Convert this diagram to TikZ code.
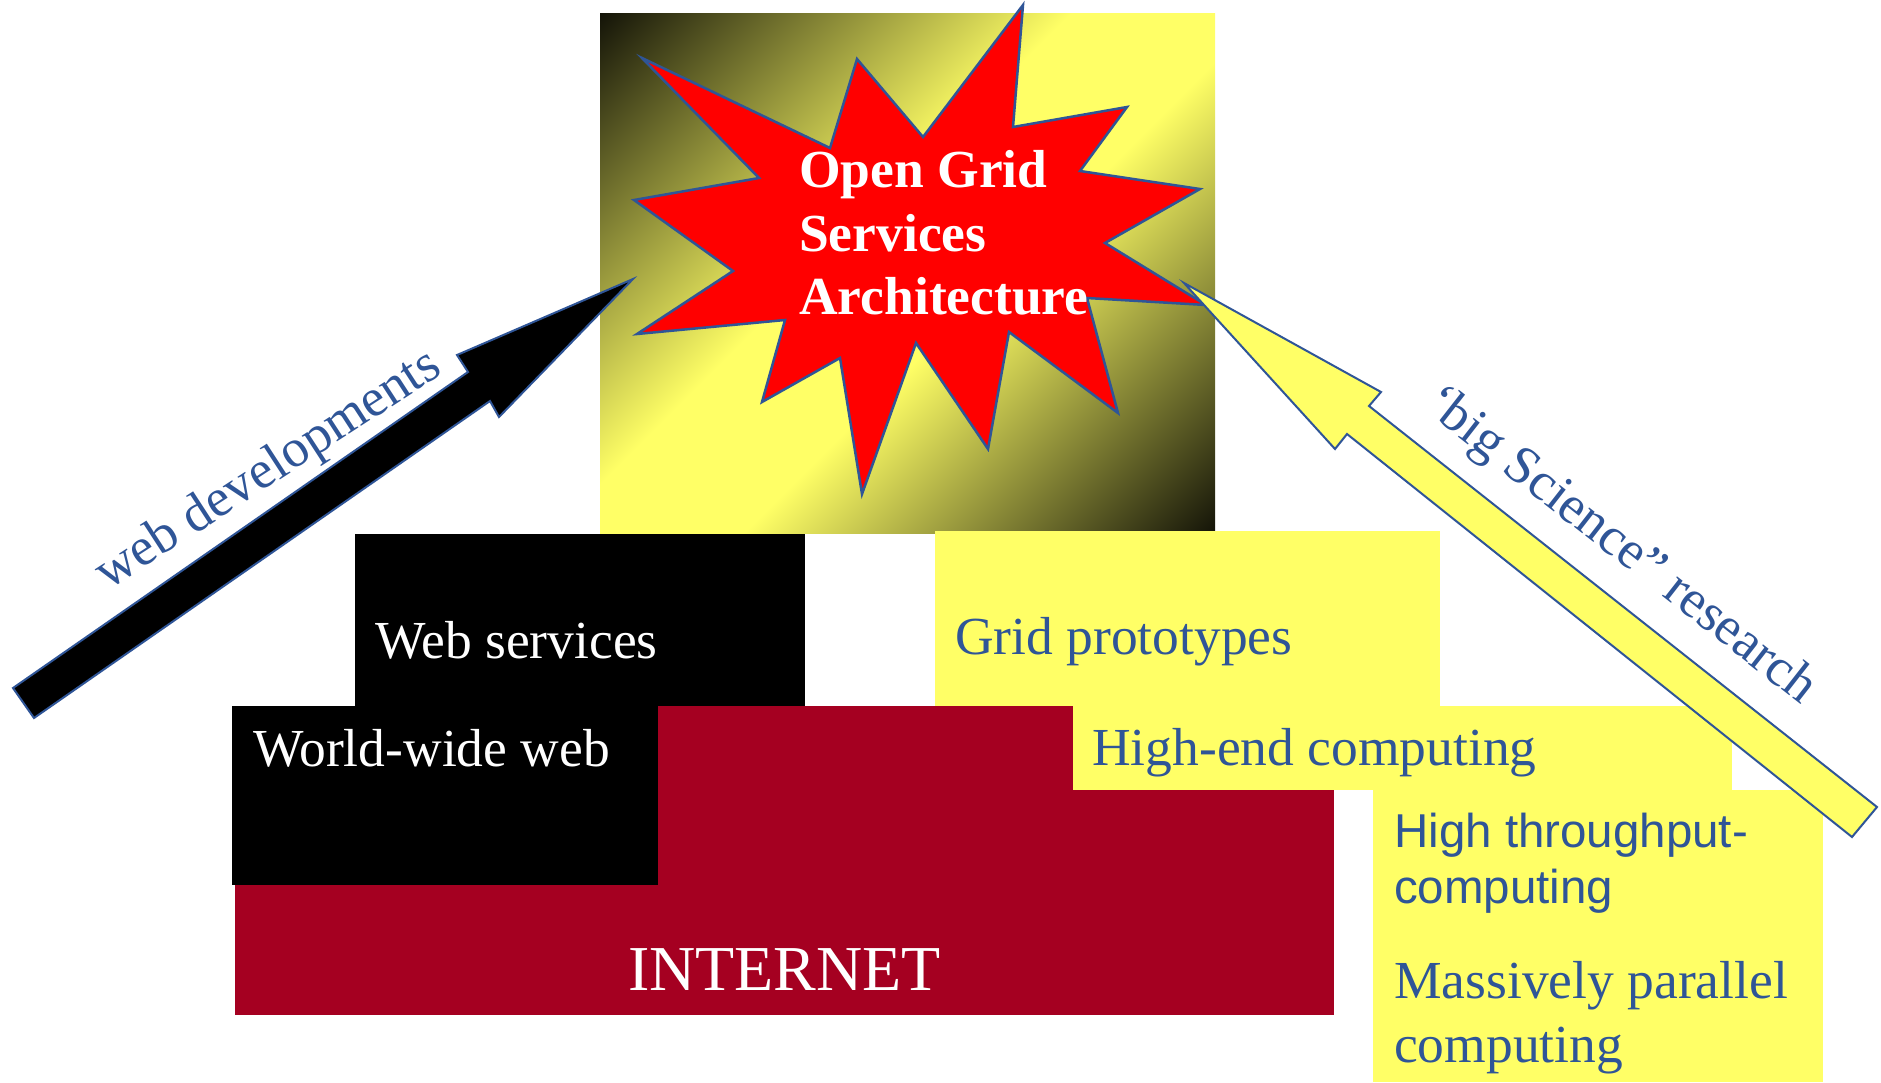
\documentclass[tikz,border=0pt]{standalone}
\usepackage{fontspec}
\setmainfont{Liberation Serif}
\newfontfamily\arialfont{Liberation Sans}
\usepackage{tikz}
\usetikzlibrary{calc}
\definecolor{ogsayellow}{RGB}{255,255,102}
\definecolor{ogsablue}{RGB}{47,85,151}
\definecolor{inetred}{RGB}{165,0,33}
\pgfdeclarehorizontalshading{squarefade}{100bp}{color(0bp)=(black); color(12bp)=(black); color(44bp)=(ogsayellow); color(56bp)=(ogsayellow); color(88bp)=(black); color(100bp)=(black)}
\tikzset{layer box/.style={rectangle, inner sep=0pt, outer sep=0pt, anchor=north west},
  white text/.style={anchor=base west, inner sep=0pt, text=white, font=\fontsize{53.5}{60}\selectfont},
  blue text/.style={anchor=base west, inner sep=0pt, text=ogsablue, font=\fontsize{53.5}{60}\selectfont},
  sans text/.style={anchor=base west, inner sep=0pt, text=ogsablue, font=\arialfont\fontsize{47.5}{56}\selectfont},
  ogsa text/.style={anchor=base west, inner sep=0pt, text=white, font=\bfseries\fontsize{53.5}{63}\selectfont},
  block arrow/.style={draw=ogsablue, line width=2pt, line join=miter},}

\begin{document}
\begin{tikzpicture}[x=1pt, y=-1pt]
        \useasboundingbox (0,0) rectangle (1881,1082);
        % Top square and burst
        \node[layer box, minimum width=615, minimum height=520, shading=squarefade, shading angle=-45] (square) at (600,13) {};
        \path[draw=ogsablue, line width=2.5pt, fill=red, line join=miter]
        (1023,5) -- (1013,127) -- (1127,107) -- (1080,171) -- (1200,189) -- (1105,243)
        -- (1206,305) -- (1087,298) -- (1118,413) -- (1009,332) -- (988,449) -- (916,343)
        -- (862,494) -- (840,358) -- (762,402) -- (785,320) -- (637,334) -- (733,271)
        -- (634,200) -- (759,178) -- (642,58) -- (830,148) -- (857,59) -- (923,137) -- cycle;
        \node[ogsa text] (ogsa1) at (799,187) {Open Grid};
        \node[ogsa text] (ogsa2) at (799,251) {Services};
        \node[ogsa text] (ogsa3) at (799,314) {Architecture};
        % Boxes
        \node[layer box, fill=inetred, minimum width=1099, minimum height=309] (inet) at (235,706) {};
        \node[layer box, fill=black, minimum width=450, minimum height=172] (websrv) at (355,534) {};
        \node[layer box, fill=black, minimum width=426, minimum height=179] (www) at (232,706) {};
        \node[layer box, fill=ogsayellow, minimum width=505, minimum height=175] (proto) at (935,531) {};
        \node[layer box, fill=ogsayellow, minimum width=659, minimum height=84] (highend) at (1073,706) {};
        \node[layer box, fill=ogsayellow, minimum width=450, minimum height=292] (htc) at (1373,790) {};
        % Texts
        \node[white text, anchor=base, font=\fontsize{64}{70}\selectfont] (inettxt) at ($(inet.south)+(0,-25)$) {INTERNET};
        \node[white text] (websrvtxt) at ($(websrv.north west)+(20,124)$) {Web services};
        \node[white text] (wwwtxt) at ($(www.north west)+(21,60)$) {World-wide web};
        \node[blue text] (prototxt) at ($(proto.north west)+(20,123)$) {Grid prototypes};
        \node[blue text] (highendtxt) at ($(highend.north west)+(19,59)$) {High-end computing};
        \node[sans text] (htctxt1) at ($(htc.north west)+(21,57)$) {High throughput-};
        \node[sans text] (htctxt2) at ($(htc.north west)+(21,113)$) {computing};
        \node[blue text] (mpptxt1) at ($(htc.north west)+(21,208)$) {Massively parallel};
        \node[blue text] (mpptxt2) at ($(htc.north west)+(21,272)$) {computing};
        % Arrows
        \draw[block arrow, fill=black] (13,688) -- (468,372) -- (457,355) -- (633,279)
        -- (499,417) -- (490,401) -- (34,718) -- cycle;
        \node[blue text, anchor=base, rotate=33] (webdev) at (276,482) {web developments};
        \draw[block arrow, fill=ogsayellow] (1184,283) -- (1381,392) -- (1369,406) -- (1877,807)
        -- (1852,837) -- (1347,434) -- (1335,449) -- cycle;
        \node[blue text, anchor=base, rotate=-38] (bigsci) at (1612,557) {‘big Science” research};
\end{tikzpicture}
\end{document}
